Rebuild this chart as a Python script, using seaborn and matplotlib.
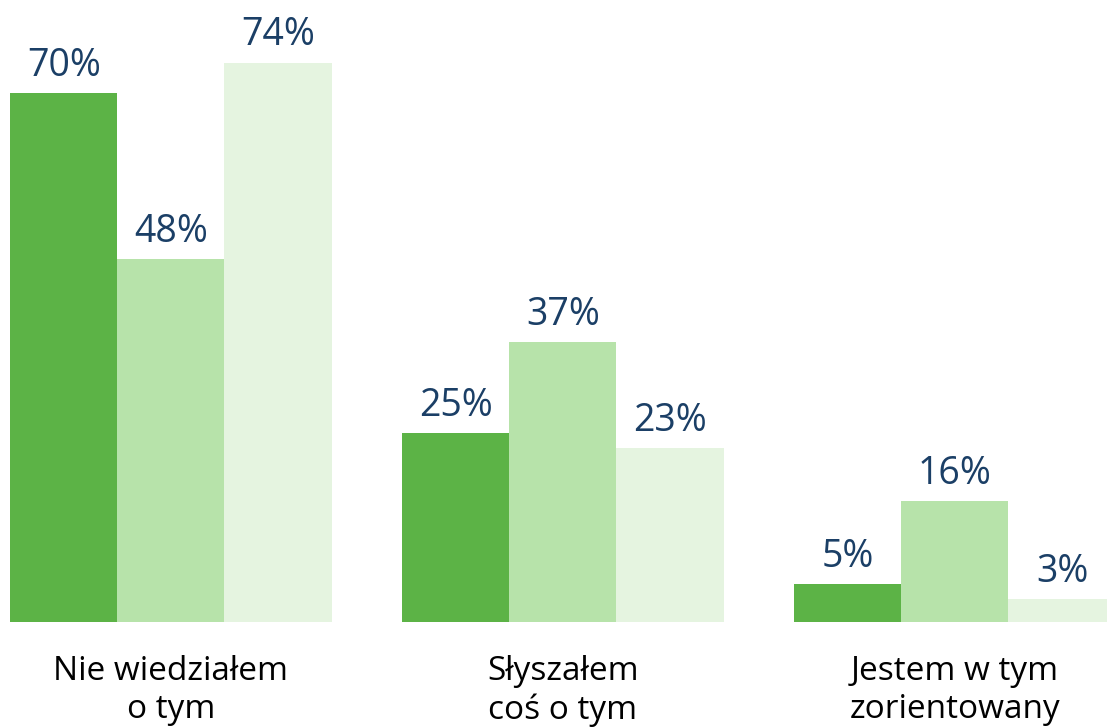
"""
grouped bar chart: awareness answers, three series per answer
"""
import matplotlib
matplotlib.use('Agg')
import matplotlib.pyplot as plt
import pandas as pd
import seaborn as sns

sns.set_style('white')
plt.rcParams['font.family'] = ['Open Sans', 'DejaVu Sans']

categories = ['Nie wiedziałem\no tym', 'Słyszałem\ncoś o tym', 'Jestem w tym\nzorientowany']
series_names = ['seria 1', 'seria 2', 'seria 3']
values_s1 = [70, 25, 5]
values_s2 = [48, 37, 16]
values_s3 = [74, 23, 3]
colors = ['#5cb346', '#b7e3aa', '#e5f4e0']

rows = []
for name, vals in zip(series_names, [values_s1, values_s2, values_s3]):
    for cat, v in zip(categories, vals):
        rows.append({'kategoria': cat, 'seria': name, 'wartosc': v})
df = pd.DataFrame(rows)

fig = plt.figure(figsize=(11.07, 7.27), dpi=100)
ax = fig.add_axes([0, 0.1444, 1, 0.8556])
sns.barplot(data=df, x='kategoria', y='wartosc', hue='seria', hue_order=series_names,
            palette=colors, width=0.82, saturation=1, legend=False, ax=ax,
            linewidth=0, errorbar=None)

for cont in ax.containers:
    ax.bar_label(cont, fmt='%d%%', padding=6, fontsize=27, color='#1b3f66')

ax.set_xlim(-0.436, 2.388)
ax.set_ylim(0, 82.3)
ax.set_xlabel('')
ax.set_ylabel('')
ax.set_yticks([])
ax.tick_params(axis='x', length=0, pad=24, labelsize=24, labelcolor='black')
for lbl in ax.get_xticklabels():
    lbl.set_linespacing(1.2)
sns.despine(ax=ax, left=True, bottom=True)

plt.savefig('out.png', dpi=100)
plt.close()
